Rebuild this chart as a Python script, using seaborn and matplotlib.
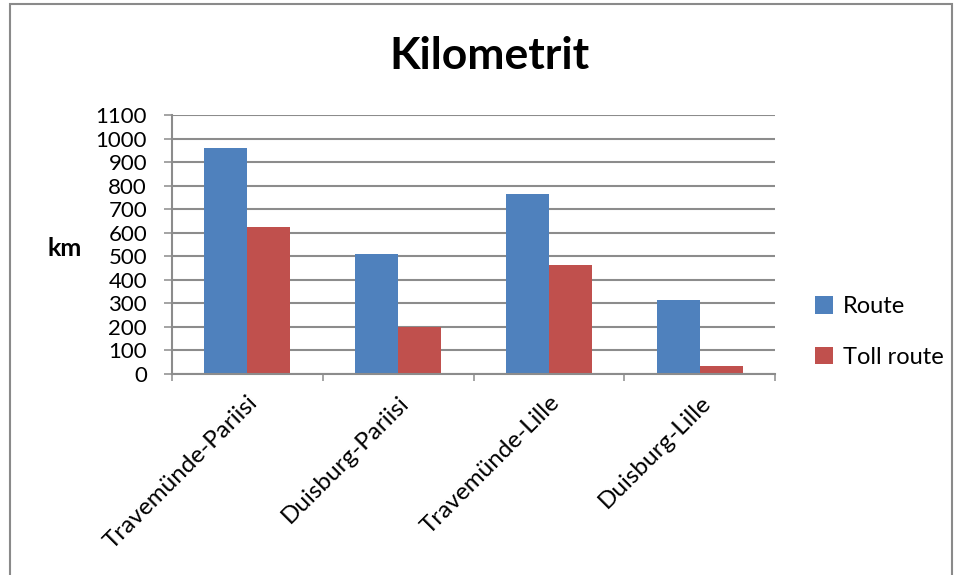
import matplotlib
matplotlib.use("Agg")
import matplotlib.pyplot as plt
import seaborn as sns
import pandas as pd
from matplotlib.patches import Rectangle
from matplotlib.ticker import FixedLocator

# Distances in kilometres per route pair
routes = ["Travemünde-Pariisi", "Duisburg-Pariisi", "Travemünde-Lille", "Duisburg-Lille"]
route_km = [961, 511, 765, 313]
toll_km = [626, 198, 463, 35]
series_names = ["Route", "Toll route"]
y_ticks = list(range(0, 1101, 100))

df = pd.DataFrame({
    "route": routes * 2,
    "km": route_km + toll_km,
    "series": [series_names[0]] * len(routes) + [series_names[1]] * len(routes),
})

sns.set_theme(style="white")
plt.rcParams["font.family"] = ["Lato", "DejaVu Sans"]
plt.rcParams["text.color"] = "black"

W, H = 963, 575
fig = plt.figure(figsize=(W / 100, H / 100), dpi=100)
fig.patch.set_facecolor("white")

# outer chart frame
fig.add_artist(Rectangle((10 / W, -0.01), (952 - 10) / W, 1 - 4 / H + 0.01,
                         transform=fig.transFigure, fill=False,
                         edgecolor="#8a8a8a", linewidth=1.5))

ax = fig.add_axes([172 / W, 1 - 374 / H, 603 / W, 259 / H])
grid_col = "#8c8c8c"

sns.barplot(data=df, x="route", y="km", hue="series",
            palette=["#4F81BD", "#C0504D"], saturation=1, width=0.57,
            linewidth=0, ax=ax)

ax.set_xlim(-0.5, 3.5)
ax.set_ylim(0, 1100)
ax.set_yticks(y_ticks)
ax.yaxis.grid(True, color=grid_col, linewidth=1.5)
ax.set_axisbelow(True)
for s in ["top", "right"]:
    ax.spines[s].set_visible(False)
for s in ["left", "bottom"]:
    ax.spines[s].set_color(grid_col)
    ax.spines[s].set_linewidth(1.5)

ax.tick_params(axis="y", direction="out", length=6, width=1.1, color=grid_col,
               labelsize=16, pad=12, left=True, labelcolor="black")
ax.xaxis.set_minor_locator(FixedLocator([-0.5, 0.5, 1.5, 2.5, 3.5]))
ax.tick_params(axis="x", which="minor", direction="out", length=5, width=1.1,
               color=grid_col, bottom=True)
ax.tick_params(axis="x", which="major", length=0, labelsize=17.5, pad=13,
               labelcolor="black")
plt.setp(ax.get_xticklabels(), rotation=45, ha="right", va="top",
         rotation_mode="anchor")
ax.set_xlabel("")
ax.set_ylabel("")

fig.text(65 / W, 1 - 248 / H, "km", fontsize=18, fontweight="bold",
         ha="center", va="center", color="black")
fig.text(489 / W, 1 - 56 / H, "Kilometrit", fontsize=32, fontweight="bold",
         ha="center", va="center", color="black")

leg = ax.legend(loc="center left", bbox_to_anchor=(815 / W, 1 - 332 / H),
                bbox_transform=fig.transFigure, frameon=False, fontsize=17,
                handlelength=0.75, handleheight=0.75, handletextpad=0.45,
                labelspacing=1.25, borderaxespad=0, borderpad=0)
for t in leg.get_texts():
    t.set_color("black")

fig.savefig("out.png", dpi=100)
